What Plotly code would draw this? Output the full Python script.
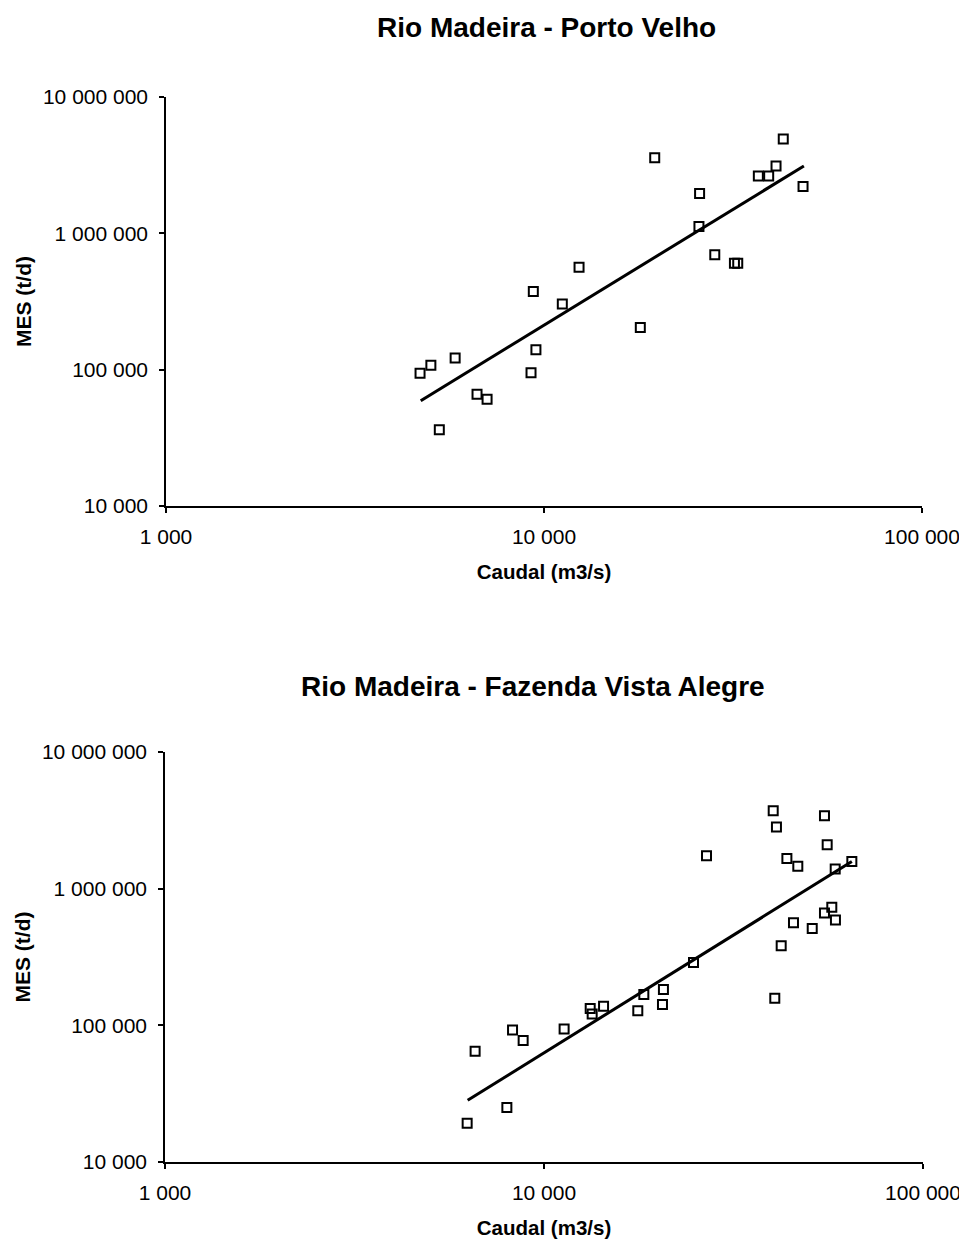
import plotly.graph_objects as go

# ---- Data: Rio Madeira - Porto Velho ----
pv_caudal = [4700, 5020, 5820, 5285, 6650, 7070, 9240, 9520, 9370, 11180, 12380,
             17980, 19630, 25800, 25700, 28300, 31900, 32550, 36900, 39300, 41100,
             42950, 48450]
pv_mes = [94000, 107700, 122000, 36200, 65900, 60800, 94800, 140000, 375000, 303000,
          563000, 204000, 3590000, 1960000, 1120000, 697000, 603000, 603000, 2630000,
          2630000, 3120000, 4920000, 2210000]
pv_trend_caudal = [4720, 48700]
pv_trend_mes = [59200, 3120000]

# ---- Data: Rio Madeira - Fazenda Vista Alegre ----
fva_caudal = [6270, 6580, 7980, 8260, 8810, 11300, 13240, 13400, 14360, 17680, 18340,
              20540, 20660, 24800, 26840, 40250, 41050, 40640, 42250, 43740, 46740,
              45530, 51020, 54960, 55870, 54960, 57460, 58750, 58660, 64900]
fva_mes = [19200, 64500, 25100, 92500, 77300, 94100, 133000, 121000, 138000, 128000,
           168000, 142000, 183000, 288000, 1740000, 3720000, 2830000, 158000, 383000,
           1660000, 1460000, 564000, 512000, 3420000, 2100000, 664000, 730000, 590000,
           1390000, 1580000]
fva_trend_caudal = [6290, 64900]
fva_trend_mes = [28300, 1580000]

titles = ["Rio Madeira - Porto Velho", "Rio Madeira - Fazenda Vista Alegre"]
x_tickvals = [1000, 10000, 100000]
x_ticktext = ["1 000", "10 000", "100 000"]
y_tickvals = [10000, 100000, 1000000, 10000000]
y_ticktext = ["10 000", "100 000", "1 000 000", "10 000 000"]
x_label = "Caudal (m3/s)"
y_label = "MES (t/d)"

FONT = "Liberation Sans, Arial, sans-serif"
OFF = 8  # default body margin of the html page
W, H = 967 - OFF, 1242 - OFF


def px(x):
    return (x - OFF) / W


def py(y):
    return 1 - (y - OFF) / H


fig = go.Figure()

marker = dict(symbol="square-open", size=9, color="black", line=dict(color="black", width=2))

fig.add_trace(go.Scatter(x=pv_caudal, y=pv_mes, mode="markers", marker=marker,
                         xaxis="x", yaxis="y", showlegend=False))
fig.add_trace(go.Scatter(x=pv_trend_caudal, y=pv_trend_mes, mode="lines",
                         line=dict(color="black", width=3), xaxis="x", yaxis="y",
                         showlegend=False))
fig.add_trace(go.Scatter(x=fva_caudal, y=fva_mes, mode="markers", marker=marker,
                         xaxis="x2", yaxis="y2", showlegend=False))
fig.add_trace(go.Scatter(x=fva_trend_caudal, y=fva_trend_mes, mode="lines",
                         line=dict(color="black", width=3), xaxis="x2", yaxis="y2",
                         showlegend=False))


def xaxis_cfg(domain, anchor):
    return dict(type="log", range=[3, 5], domain=domain, anchor=anchor,
                tickvals=x_tickvals, ticktext=x_ticktext,
                ticks="outside", ticklen=5, tickwidth=1.5, tickcolor="black",
                showline=True, linecolor="black", linewidth=2,
                showgrid=False, zeroline=False,
                tickfont=dict(family=FONT, size=21, color="black"),
                ticklabelstandoff=6,
                title=dict(text="<b>" + x_label + "</b>",
                           font=dict(family=FONT, size=20.5, color="black"),
                           standoff=17),
                automargin=False)


def yaxis_cfg(domain, anchor):
    return dict(type="log", range=[4, 7], domain=domain, anchor=anchor,
                tickvals=y_tickvals, ticktext=y_ticktext,
                ticks="outside", ticklen=5, tickwidth=1.5, tickcolor="black",
                showline=True, linecolor="black", linewidth=1.5,
                showgrid=False, zeroline=False,
                tickfont=dict(family=FONT, size=21, color="black"),
                ticklabelstandoff=7,
                title=dict(text="<b>" + y_label + "</b>",
                           font=dict(family=FONT, size=21, color="black"),
                           standoff=6),
                automargin=False)


fig.update_layout(
    width=W, height=H,
    margin=dict(l=0, r=0, t=0, b=0),
    paper_bgcolor="white", plot_bgcolor="white",
    xaxis=xaxis_cfg([px(166), px(922)], "y"),
    yaxis=yaxis_cfg([py(506), py(97)], "x"),
    xaxis2=xaxis_cfg([px(165), px(923)], "y2"),
    yaxis2=yaxis_cfg([py(1162), py(752)], "x2"),
    annotations=[
        dict(text="<b>" + titles[0] + "</b>", x=px(546), y=py(28),
             xref="paper", yref="paper", showarrow=False, xanchor="center", yanchor="middle",
             font=dict(family=FONT, size=28, color="black")),
        dict(text="<b>" + titles[1] + "</b>", x=px(533), y=py(686),
             xref="paper", yref="paper", showarrow=False, xanchor="center", yanchor="middle",
             font=dict(family=FONT, size=28, color="black")),
    ],
)

fig.write_html("out.html")
